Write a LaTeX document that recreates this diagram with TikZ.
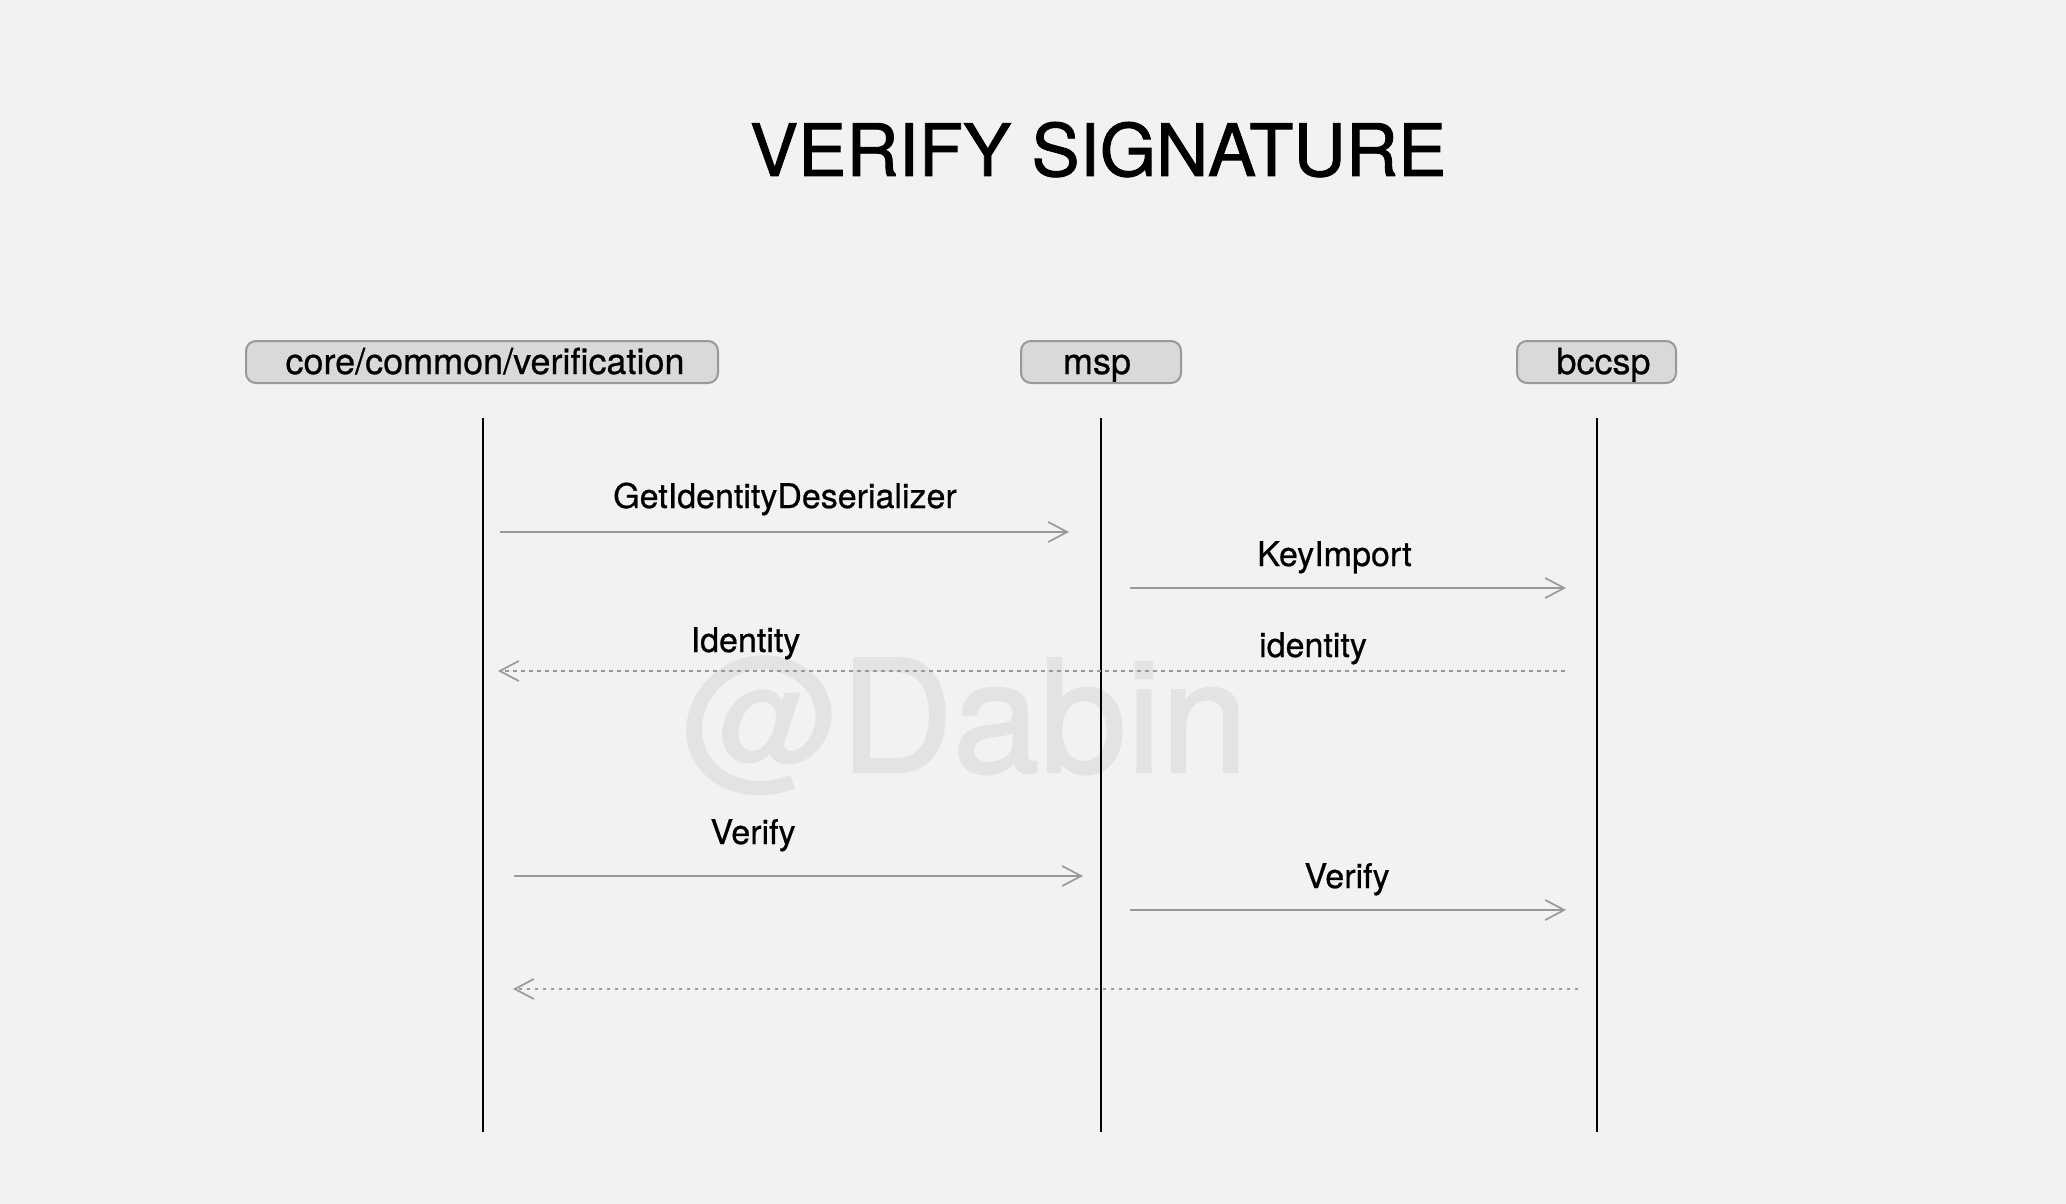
\documentclass[tikz,border=0pt]{standalone}
\usepackage{fontspec}
\setmainfont{TeX Gyre Heros}
\newfontfamily\medfont[FakeBold=0.6]{TeX Gyre Heros}
\newfontfamily\titlefont[FakeBold=1.2]{TeX Gyre Heros}
\newfontfamily\wmfont[FakeBold=1.5]{TeX Gyre Heros}
\usetikzlibrary{arrows.meta}
\definecolor{bg}{HTML}{F2F2F2}
\definecolor{boxfill}{HTML}{D9D9D9}
\definecolor{boxline}{HTML}{999999}
\definecolor{msgline}{HTML}{999999}
\definecolor{wm}{HTML}{E3E3E3}
\begin{document}
\begin{tikzpicture}[x=0.5pt,y=-0.5pt,
  actor/.style={draw=boxline, fill=boxfill, line width=1pt, rounded corners=5pt,
    minimum height=21pt, inner sep=0pt, text height=14pt, text depth=2pt,
    font=\medfont\fontsize{18}{21}\selectfont},
  lifeline/.style={line width=1pt, draw=black},
  msg/.style={draw=msgline, line width=0.85pt,
    -{Straight Barb[length=9.5pt,width=10pt,line width=0.85pt]}},
  ret/.style={msg, dash pattern=on 2pt off 2pt},
  ret2/.style={msg, dash pattern=on 1.5pt off 2.5pt},
  lbl/.style={anchor=base, inner sep=0pt, font=\medfont\fontsize{17}{20}\selectfont},
]
\fill[bg] (0,0) rectangle (2066,1204);
\useasboundingbox (0,0) rectangle (2066,1204);

% watermark
\node[anchor=base, inner sep=0pt, text=wm, font=\wmfont\fontsize{78}{80}\selectfont] (wmark) at (965,772) {@Dabin};

% title
\node[anchor=base, inner sep=0pt, font=\titlefont\fontsize{36.2}{40}\selectfont] (title) at (1098,176) {VERIFY SIGNATURE};

% actors
\node[actor, minimum width=236pt] (core) at (482,362) {\hspace*{3pt}core/common/verification};
\node[actor, minimum width=80pt] (msp) at (1101,362) {msp\hspace*{4pt}};
\node[actor, minimum width=79.5pt] (bccsp) at (1596.5,362) {\hspace*{7pt}bccsp};

% lifelines
\coordinate (l1t) at (483,418); \coordinate (l1b) at (483,1132);
\coordinate (l2t) at (1101,418); \coordinate (l2b) at (1101,1132);
\coordinate (l3t) at (1597,418); \coordinate (l3b) at (1597,1132);
\draw[lifeline] (l1t) -- (l1b);
\draw[lifeline] (l2t) -- (l2b);
\draw[lifeline] (l3t) -- (l3b);

% messages
\coordinate (m1s) at (500,532); \coordinate (m1e) at (1069,532);
\draw[msg] (m1s) -- (m1e);
\node[lbl] (m1l) at (785,508) {GetIdentityDeserializer};

\coordinate (m2s) at (1130,588); \coordinate (m2e) at (1566,588);
\draw[msg] (m2s) -- (m2e);
\node[lbl] (m2l) at (1334.5,566) {KeyImport};

\coordinate (r1s) at (1565,671); \coordinate (r1e) at (498,671);
\draw[ret] (r1s) -- (r1e);
\node[lbl] (r1la) at (745.5,652) {Identity};
\node[lbl] (r1lb) at (1313,657) {identity};

\coordinate (m3s) at (514,876); \coordinate (m3e) at (1083,876);
\draw[msg] (m3s) -- (m3e);
\node[lbl] (m3l) at (753,844) {Verify};

\coordinate (m4s) at (1130,910); \coordinate (m4e) at (1566,910);
\draw[msg] (m4s) -- (m4e);
\node[lbl] (m4l) at (1347,888) {Verify};

\coordinate (r2s) at (1578,989); \coordinate (r2e) at (513,989);
\draw[ret2] (r2s) -- (r2e);
\end{tikzpicture}
\end{document}
